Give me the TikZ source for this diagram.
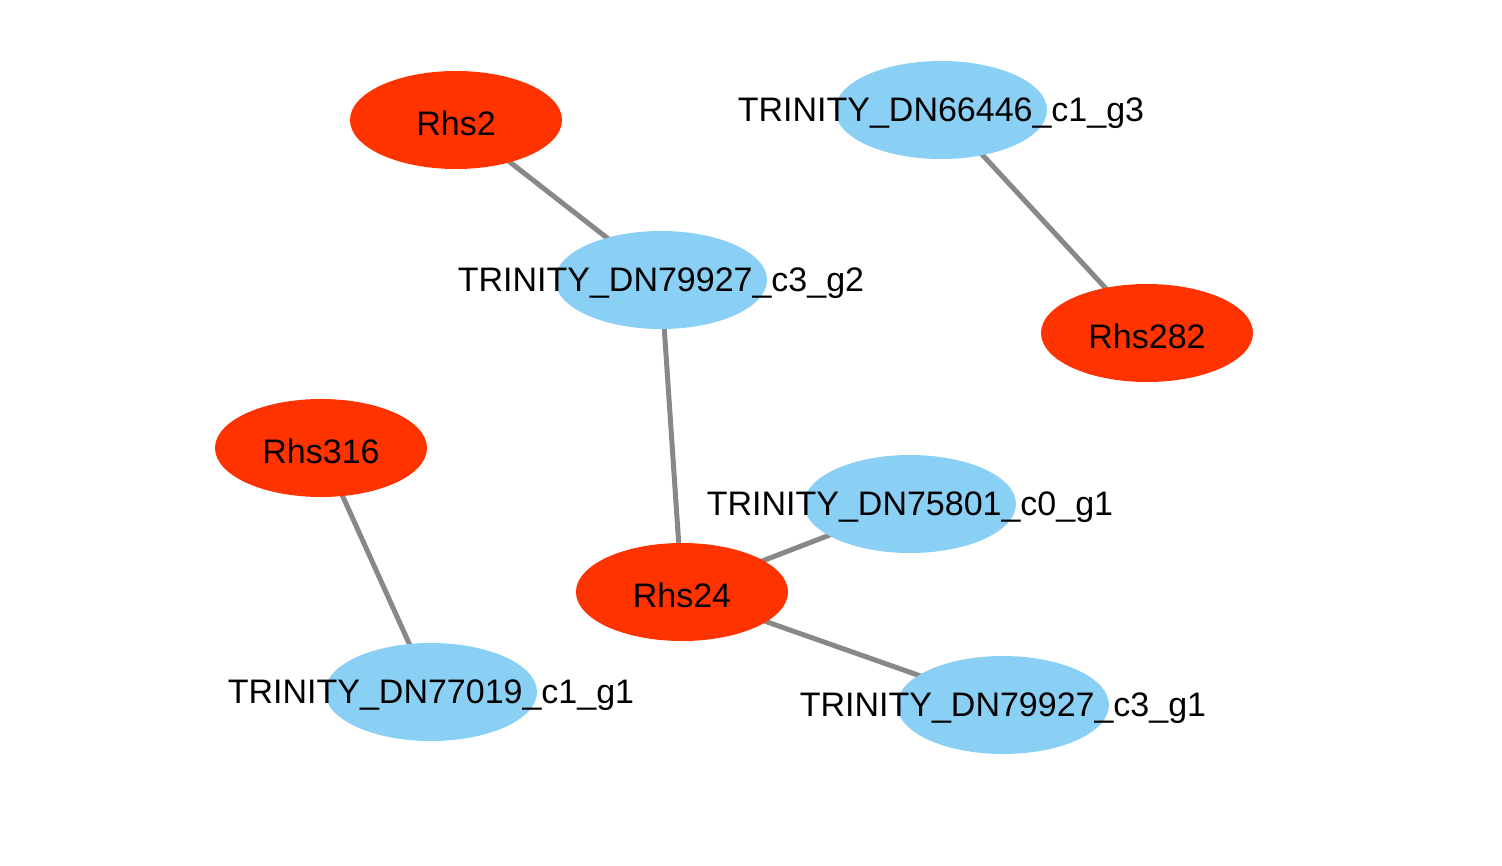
\documentclass[tikz,border=0pt]{standalone}
\usepackage{fontspec}
\setmainfont{Liberation Sans}
\usetikzlibrary{shapes.geometric}
\definecolor{nodered}{HTML}{FF3300}
\definecolor{nodeblue}{HTML}{89D0F4}
\definecolor{edgegray}{HTML}{888888}
\pgfdeclarelayer{bg}
\pgfsetlayers{bg,main}
\tikzset{
  gnode/.style={ellipse, minimum width=212pt, minimum height=98pt, inner sep=0pt},
  rnode/.style={gnode, fill=nodered},
  bnode/.style={gnode, fill=nodeblue},
  glabel/.style={inner sep=0pt, yshift=-3pt, font=\fontsize{34}{40}\selectfont, text=black},
  gedge/.style={draw=edgegray, line width=5pt}
}
\begin{document}
\begin{tikzpicture}[x=1pt,y=-1pt]
\useasboundingbox (0,0) rectangle (1502,865);
\node[rnode] (rhs2) at (456,120) {};
\node[bnode] (dn66446) at (941,110) {};
\node[bnode] (dn79927g2) at (661,280) {};
\node[rnode] (rhs282) at (1147,333) {};
\node[rnode] (rhs316) at (321,448) {};
\node[bnode] (dn75801) at (910,504) {};
\node[rnode] (rhs24) at (682,592) {};
\node[bnode] (dn77019) at (431,692) {};
\node[bnode] (dn79927g1) at (1003,705) {};
\node[glabel] (trhs2) at (rhs2.center) {Rhs2};
\node[glabel] (tdn66446) at (dn66446.center) {TRINITY\_DN66446\_c1\_g3};
\node[glabel] (tdn79927g2) at (dn79927g2.center) {TRINITY\_DN79927\_c3\_g2};
\node[glabel] (trhs282) at (rhs282.center) {Rhs282};
\node[glabel] (trhs316) at (rhs316.center) {Rhs316};
\node[glabel] (tdn75801) at (dn75801.center) {TRINITY\_DN75801\_c0\_g1};
\node[glabel] (trhs24) at (rhs24.center) {Rhs24};
\node[glabel] (tdn77019) at (dn77019.center) {TRINITY\_DN77019\_c1\_g1};
\node[glabel] (tdn79927g1) at (dn79927g1.center) {TRINITY\_DN79927\_c3\_g1};
\begin{pgfonlayer}{bg}
\draw[gedge] (rhs2.center) -- (dn79927g2.center);
\draw[gedge] (dn66446.center) -- (rhs282.center);
\draw[gedge] (dn79927g2.center) -- (rhs24.center);
\draw[gedge] (rhs316.center) -- (dn77019.center);
\draw[gedge] (rhs24.center) -- (dn75801.center);
\draw[gedge] (rhs24.center) -- (dn79927g1.center);
\end{pgfonlayer}
\end{tikzpicture}
\end{document}
